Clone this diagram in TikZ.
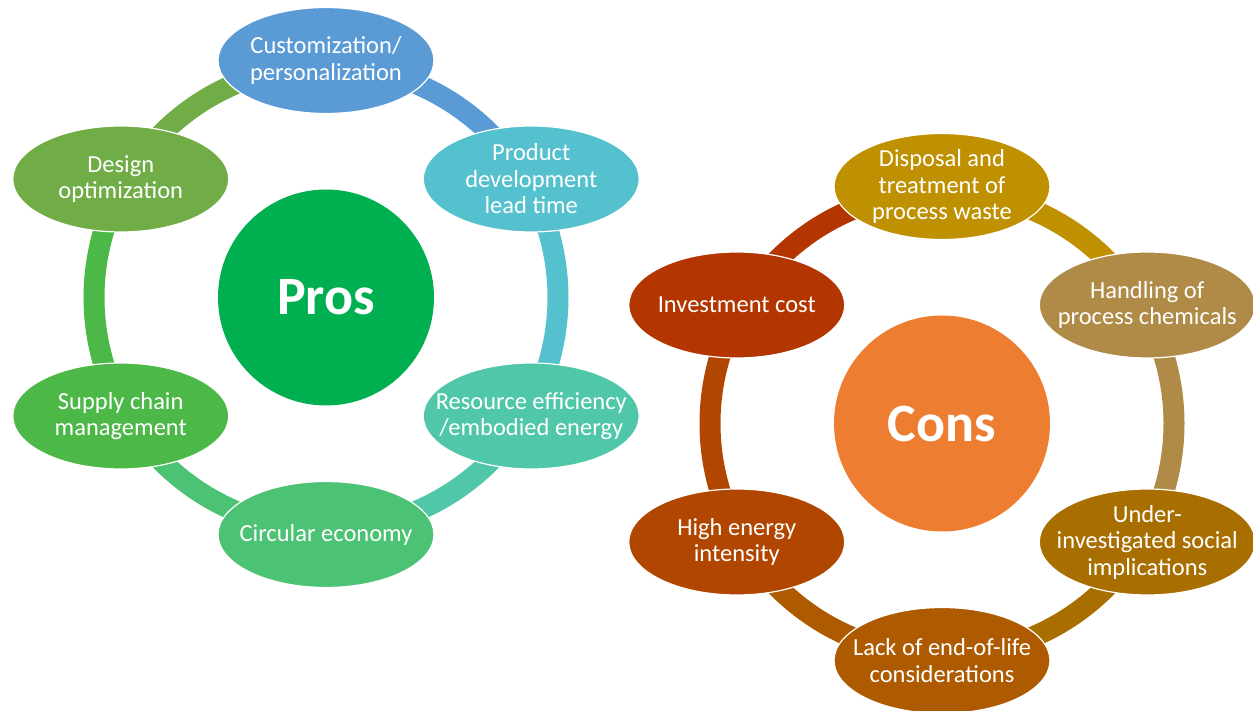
\documentclass[tikz,border=0pt]{standalone}
\usepackage{fontspec}
\setmainfont{Carlito}
\usetikzlibrary{shapes.geometric}
\pgfdeclarelayer{background}
\pgfsetlayers{background,main}
\definecolor{cPros}{HTML}{00B050}
\definecolor{cCust}{HTML}{5B9BD5}
\definecolor{cProd}{HTML}{55C1CF}
\definecolor{cRes}{HTML}{50C7A9}
\definecolor{cCirc}{HTML}{4CC274}
\definecolor{cSup}{HTML}{4CB848}
\definecolor{cDes}{HTML}{70AD47}
\definecolor{cCons}{HTML}{ED7D31}
\definecolor{cDisp}{HTML}{BF9000}
\definecolor{cHand}{HTML}{AF8B47}
\definecolor{cUnder}{HTML}{A86E00}
\definecolor{cLack}{HTML}{AE5A00}
\definecolor{cHigh}{HTML}{B14600}
\definecolor{cInv}{HTML}{B33500}
\begin{document}
\begin{tikzpicture}[x=1pt,y=1pt,
  item/.style={ellipse, minimum width=216pt, minimum height=106pt, inner xsep=-30pt, inner ysep=-15pt,
    draw=white, line width=1.2pt, text=white, align=center, font=\fontsize{24.5}{26.5}\selectfont},
  hub/.style={circle, minimum size=216pt, inner sep=0pt, text=white, font=\bfseries\fontsize{54}{60}\selectfont},
  ring/.style={line width=21pt}]
\useasboundingbox (0,0) rectangle (1253,710);
% Pros
\node[hub, fill=cPros] (P) at (326,412.5) {Pros};
\node[item, fill=cCust] (cu) at ([shift={(90:237pt)}]P.center) {Customization/\\personalization};
\node[item, fill=cProd] (pd) at ([shift={(30:237pt)}]P.center) {Product\\development\\lead time};
\node[item, fill=cRes] (re) at ([shift={(-30:237pt)}]P.center) {Resource efficiency\\/embodied energy};
\node[item, fill=cCirc] (ce) at ([shift={(-90:237pt)}]P.center) {Circular economy};
\node[item, fill=cSup] (sc) at ([shift={(210:237pt)}]P.center) {Supply chain\\management};
\node[item, fill=cDes] (dO) at ([shift={(150:237pt)}]P.center) {Design\\optimization};
% Cons
\node[hub, fill=cCons] (C) at (942,286.5) {Cons};
\node[item, fill=cDisp] (dp) at ([shift={(90:237pt)}]C.center) {Disposal and\\treatment of\\process waste};
\node[item, fill=cHand] (hc) at ([shift={(30:237pt)}]C.center) {Handling of\\process chemicals};
\node[item, fill=cUnder] (ui) at ([shift={(-30:237pt)}]C.center) {Under-\\investigated social\\implications};
\node[item, fill=cLack] (le) at ([shift={(-90:237pt)}]C.center) {Lack of end-of-life\\considerations};
\node[item, fill=cHigh] (he) at ([shift={(210:237pt)}]C.center) {High energy\\intensity};
\node[item, fill=cInv] (ic) at ([shift={(150:237pt)}]C.center) {Investment cost};
\begin{pgfonlayer}{background}
\draw[ring, cCust] ([shift={(90:232pt)}]P.center) arc[start angle=90, end angle=30, radius=232pt];
\draw[ring, cProd] ([shift={(30:232pt)}]P.center) arc[start angle=30, end angle=-30, radius=232pt];
\draw[ring, cRes] ([shift={(-30:232pt)}]P.center) arc[start angle=-30, end angle=-90, radius=232pt];
\draw[ring, cCirc] ([shift={(-90:232pt)}]P.center) arc[start angle=-90, end angle=-150, radius=232pt];
\draw[ring, cSup] ([shift={(-150:232pt)}]P.center) arc[start angle=-150, end angle=-210, radius=232pt];
\draw[ring, cDes] ([shift={(150:232pt)}]P.center) arc[start angle=150, end angle=90, radius=232pt];
\draw[ring, cDisp] ([shift={(90:232pt)}]C.center) arc[start angle=90, end angle=30, radius=232pt];
\draw[ring, cHand] ([shift={(30:232pt)}]C.center) arc[start angle=30, end angle=-30, radius=232pt];
\draw[ring, cUnder] ([shift={(-30:232pt)}]C.center) arc[start angle=-30, end angle=-90, radius=232pt];
\draw[ring, cLack] ([shift={(-90:232pt)}]C.center) arc[start angle=-90, end angle=-150, radius=232pt];
\draw[ring, cHigh] ([shift={(-150:232pt)}]C.center) arc[start angle=-150, end angle=-210, radius=232pt];
\draw[ring, cInv] ([shift={(150:232pt)}]C.center) arc[start angle=150, end angle=90, radius=232pt];
\end{pgfonlayer}
\end{tikzpicture}
\end{document}
